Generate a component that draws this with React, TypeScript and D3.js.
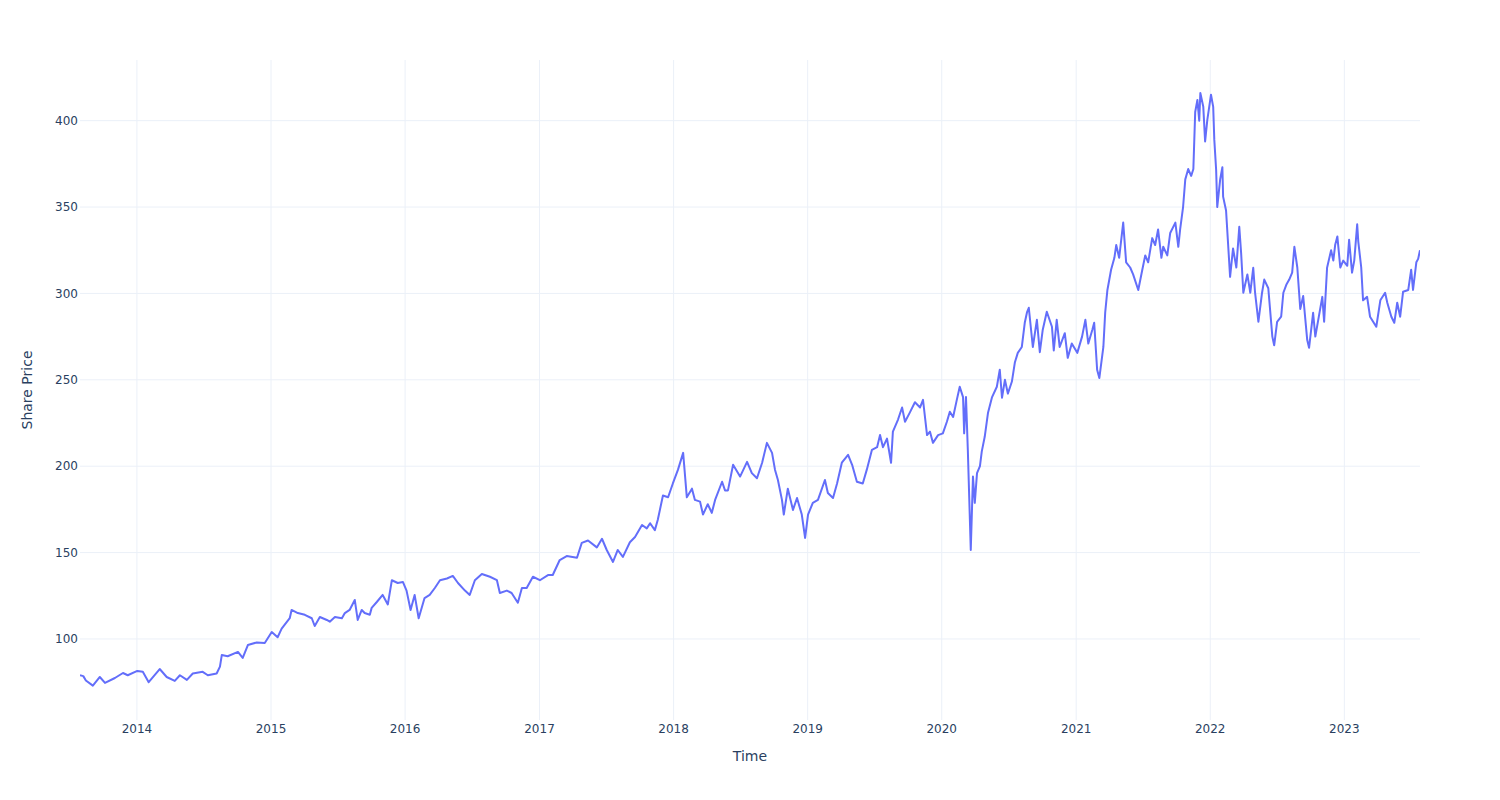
import React from "react";
import * as d3 from "d3";

const dates: string[] = [
  "2013-07-30","2013-08-08","2013-08-15","2013-09-03","2013-09-22","2013-10-06","2013-11-02","2013-11-24","2013-12-07",
  "2014-01-02","2014-01-17","2014-02-02","2014-03-04","2014-03-23","2014-04-14","2014-04-28","2014-05-17","2014-06-02","2014-06-29","2014-07-13","2014-08-06","2014-08-15","2014-08-20","2014-09-05","2014-10-03","2014-10-16","2014-10-30","2014-11-23","2014-12-15",
  "2015-01-03","2015-01-19","2015-01-30","2015-02-21","2015-02-26","2015-03-15","2015-04-03","2015-04-22","2015-04-30","2015-05-14","2015-06-02","2015-06-10","2015-06-24","2015-07-13","2015-07-21","2015-08-03","2015-08-17","2015-08-25","2015-09-05","2015-09-13","2015-09-27","2015-10-02","2015-10-16","2015-11-01","2015-11-15","2015-11-26","2015-12-12","2015-12-26",
  "2016-01-05","2016-01-16","2016-01-27","2016-02-07","2016-02-23","2016-03-08","2016-03-22","2016-04-05","2016-04-24","2016-05-10","2016-05-24","2016-06-12","2016-06-25","2016-07-09","2016-07-28","2016-08-19","2016-09-07","2016-09-15","2016-10-04","2016-10-17","2016-11-03","2016-11-14","2016-11-27","2016-12-14",
  "2017-01-02","2017-01-24","2017-02-06","2017-02-25","2017-03-16","2017-04-13","2017-04-26","2017-05-13","2017-06-06","2017-06-20","2017-07-03","2017-07-20","2017-08-02","2017-08-16","2017-09-04","2017-09-18","2017-10-07","2017-10-20","2017-10-29","2017-11-11","2017-11-19","2017-12-03","2017-12-17","2017-12-30",
  "2018-01-13","2018-01-27","2018-02-06","2018-02-20","2018-02-28","2018-03-14","2018-03-22","2018-04-04","2018-04-15","2018-04-24","2018-05-13","2018-05-21","2018-05-29","2018-06-12","2018-07-01","2018-07-20","2018-08-02","2018-08-16","2018-08-30","2018-09-12","2018-09-26","2018-10-04","2018-10-12","2018-10-23","2018-10-28","2018-11-08","2018-11-22","2018-12-03","2018-12-16","2018-12-25",
  "2019-01-02","2019-01-15","2019-01-29","2019-02-17","2019-02-25","2019-03-11","2019-03-22","2019-04-04","2019-04-21","2019-05-02","2019-05-15","2019-05-31","2019-06-11","2019-06-25","2019-07-09","2019-07-17","2019-07-25","2019-08-05","2019-08-16","2019-08-21","2019-09-04","2019-09-15","2019-09-23","2019-10-06","2019-10-20","2019-11-03","2019-11-11","2019-11-22","2019-11-30","2019-12-08","2019-12-22",
  "2020-01-04","2020-01-15","2020-01-23","2020-02-01","2020-02-11","2020-02-19","2020-02-28","2020-03-02","2020-03-07","2020-03-12","2020-03-20","2020-03-26","2020-03-31","2020-04-06","2020-04-14","2020-04-19","2020-04-27","2020-05-06","2020-05-17","2020-05-30","2020-06-07","2020-06-13","2020-06-21","2020-06-29","2020-07-10","2020-07-18","2020-07-26","2020-08-06","2020-08-14","2020-08-20","2020-08-25","2020-09-05","2020-09-16","2020-09-24","2020-10-02","2020-10-13","2020-10-27","2020-11-01","2020-11-09","2020-11-17","2020-12-01","2020-12-09","2020-12-20",
  "2021-01-04","2021-01-17","2021-01-26","2021-02-03","2021-02-14","2021-02-19","2021-02-27","2021-03-05","2021-03-16","2021-03-21","2021-03-27","2021-04-06","2021-04-15","2021-04-20","2021-04-28","2021-05-09","2021-05-17","2021-05-28","2021-06-05","2021-06-19","2021-06-30","2021-07-08","2021-07-16","2021-07-27","2021-08-04","2021-08-12","2021-08-21","2021-08-26","2021-09-06","2021-09-14","2021-09-28","2021-10-06","2021-10-11","2021-10-19","2021-10-25","2021-11-02","2021-11-10","2021-11-16","2021-11-21","2021-11-27","2021-12-02","2021-12-05","2021-12-13","2021-12-18","2021-12-24",
  "2022-01-03","2022-01-09","2022-01-12","2022-01-17","2022-01-20","2022-01-28","2022-02-03","2022-02-05","2022-02-13","2022-02-24","2022-03-04","2022-03-13","2022-03-21","2022-03-26","2022-04-01","2022-04-12","2022-04-20","2022-04-28","2022-05-03","2022-05-12","2022-05-22","2022-05-28","2022-06-08","2022-06-19","2022-06-24","2022-07-02","2022-07-13","2022-07-19","2022-07-27","2022-08-04","2022-08-12","2022-08-18","2022-08-26","2022-09-03","2022-09-11","2022-09-22","2022-09-27","2022-10-08","2022-10-14","2022-10-22","2022-11-02","2022-11-07","2022-11-15","2022-11-26","2022-12-02","2022-12-07","2022-12-13","2022-12-21","2022-12-29",
  "2023-01-09","2023-01-14","2023-01-22","2023-01-28","2023-02-05","2023-02-08","2023-02-16","2023-02-21","2023-03-04","2023-03-12","2023-03-29","2023-04-09","2023-04-22","2023-04-28","2023-05-09","2023-05-17","2023-05-25","2023-06-02","2023-06-10","2023-06-24","2023-07-02","2023-07-07","2023-07-16","2023-07-21","2023-07-26"
];

const prices: number[] = [
  79,78.5,76,73,78,74.6,77.4,80.3,79,
  81.5,81,75,82.6,78,75.7,79,76.3,80,81,79,80,84,90.7,90,92.5,89,96.5,98,97.7,
  104,101,106,112,116.8,115,114,112,107.5,112.7,111,110,112.7,112,115,116.8,122.6,111,116.8,115,114,118,121.4,125.5,120,134,132.4,133,
  128,116.8,125.5,112,123.7,125.5,129.5,134,135,136.5,132.4,128,125.5,134,137.6,136,134,126.6,128,126.6,121,129.5,129.5,136,
  134,137,137,145.7,148,147,155.6,157,153,158,151.5,144.6,151.5,147.5,156,159,166,164,167,163,169,183,182,190,
  198,207.7,182,187,180.5,179.5,172,178,173,180.5,191,186,186,200.8,194,202.5,196,193,202,213.5,207.7,198,192,180.5,172,187,174.7,181.6,172,158.5,
  172,178.8,180.5,192,184.5,181.6,190,202,206.6,200.8,191,190,198,209.5,211,218,211,216,202,220,227,234,225.7,231,237,234,238.4,218,220,213.5,218,
  219,225.7,231.5,228.5,238.4,246,240,219,240,209.5,151.5,194,178.8,196,200,208.6,217,231,240,246,255.8,239.6,250,242,249,260,265.6,269,283,289,291.7,269,284.7,266,279,289.4,280.7,267,284.7,269,277,262.7,271,
  265.6,275,284.7,271,279,283,255.8,251,269,289,302,313.7,320.6,328,320.6,341,318,315,311,302,313.7,322,318,332,328,337,320.6,327,322,335,341,327,337,350,366,372,368,372,405,412,400,416,408,388,400.5,
  415,408,389,371.6,350,366,373,356,348,309.6,326,315,338.6,323.5,300.4,311,300.4,314.8,300.4,283.6,300.4,308,303,275,270,283.6,286.5,300.4,305,308,312,327,315,291,298.5,273,268.5,288.8,275,284.7,298,283.6,314.8,325,319,328,333,315,319,
  316,331,312,319,340,330,315,296,298,286.5,280.7,296,300.4,294.6,286.5,283,294.6,286.5,301,302,313.7,302,318,320,325
];

const yTicks: number[] = [100, 150, 200, 250, 300, 350, 400];
const xTickYears: number[] = [2014, 2015, 2016, 2017, 2018, 2019, 2020, 2021, 2022, 2023];

const W = 1500;
const H = 800;
const M = { left: 80, right: 80, top: 60, bottom: 80 };
const FONT = '"DejaVu Sans", Verdana, sans-serif';
const TXT = "#2a3f5f";
const GRID = "#EBF0F8";

export default function App() {
  const parse = d3.timeParse("%Y-%m-%d");
  const data = dates.map((d, i) => ({ t: parse(d) as Date, v: prices[i] }));
  const x = d3
    .scaleTime()
    .domain(d3.extent(data, (d) => d.t) as [Date, Date])
    .range([M.left, W - M.right]);
  const y = d3.scaleLinear().domain([53.1, 435.1]).range([H - M.bottom, M.top]);
  const line = d3
    .line<{ t: Date; v: number }>()
    .x((d) => x(d.t))
    .y((d) => y(d.v));
  const xTicks = xTickYears.map((yr) => new Date(yr, 0, 1));
  const fmt = d3.timeFormat("%Y");

  return (
    <svg
      width={W}
      height={H}
      style={{ position: "absolute", left: 0, top: 0, background: "#fff" }}
      fontFamily={FONT}
    >
      <defs>
        <clipPath id="plotclip">
          <rect x={M.left} y={M.top} width={W - M.left - M.right} height={H - M.top - M.bottom} />
        </clipPath>
      </defs>
      <rect x={0} y={0} width={W} height={H} fill="#fff" />
      {xTicks.map((t, i) => (
        <line key={"xg" + i} x1={x(t)} x2={x(t)} y1={M.top} y2={H - M.bottom} stroke={GRID} strokeWidth={1} />
      ))}
      {yTicks.map((v) => (
        <line key={"yg" + v} x1={M.left} x2={W - M.right} y1={y(v)} y2={y(v)} stroke={GRID} strokeWidth={1} />
      ))}
      <path d={line(data) || ""} fill="none" stroke="#636efa" strokeWidth={2} strokeLinejoin="round" clipPath="url(#plotclip)" />
      {xTicks.map((t, i) => (
        <text key={"xt" + i} x={x(t)} y={H - M.bottom + 13} textAnchor="middle" fontSize={12} fill={TXT}>
          {fmt(t)}
        </text>
      ))}
      {yTicks.map((v) => (
        <text key={"yt" + v} x={M.left - 2} y={y(v) + 4.2} textAnchor="end" fontSize={12} fill={TXT}>
          {v}
        </text>
      ))}
      <text x={(M.left + W - M.right) / 2} y={761} textAnchor="middle" fontSize={14} fill={TXT}>
        Time
      </text>
      <text
        transform={`translate(32,${(M.top + H - M.bottom) / 2}) rotate(-90)`}
        textAnchor="middle"
        fontSize={14}
        fill={TXT}
      >
        Share Price
      </text>
    </svg>
  );
}
